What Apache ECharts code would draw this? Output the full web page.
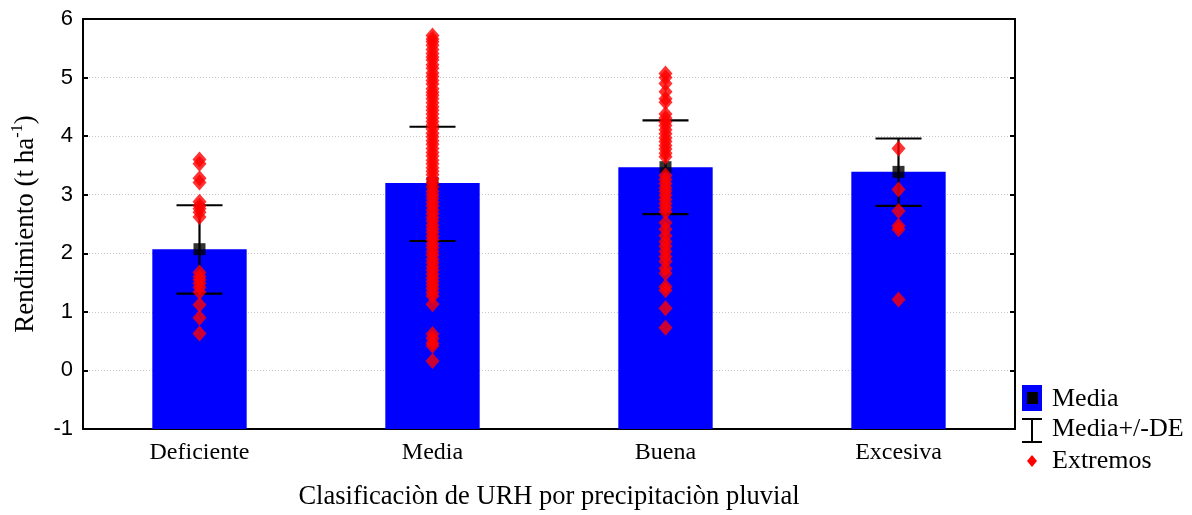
<!DOCTYPE html>
<html>
<head>
<meta charset="utf-8">
<script src="https://cdn.jsdelivr.net/npm/echarts@6/dist/echarts.min.js"></script>
<style>
html,body{margin:0;padding:0;background:#fff;}
#chart{width:1192px;height:515px;}
</style>
</head>
<body>
<div id="chart"></div>
<script>
var categories = ['Deficiente', 'Media', 'Buena', 'Excesiva'];
var means = [2.07, 3.20, 3.47, 3.39];
var sdLow = [1.31, 2.21, 2.67, 2.81];
var sdHigh = [2.82, 4.16, 4.27, 3.96];
var yTicks = [-1, 0, 1, 2, 3, 4, 5, 6];

var extremosDeficiente = [3.60, 3.53, 3.28, 3.21, 2.88, 2.81, 2.76, 2.70, 2.62, 1.67, 1.60, 1.55, 1.49, 1.42, 1.34, 1.12, 0.90, 0.63];
var extremosMedia = [5.72, 5.66, 5.61, 5.55, 5.48, 5.41, 5.35, 5.30, 5.22, 5.16, 5.08, 5.02, 4.95, 4.89, 4.81, 4.75, 4.70, 4.64, 4.57, 4.50, 4.44, 4.38, 4.31, 4.25, 4.19, 4.12, 4.05, 3.99, 3.92, 3.86, 3.79, 3.72, 3.66, 3.59, 3.53, 3.46, 3.40, 3.34, 3.27, 3.20, 3.13, 3.06, 3.00, 2.94, 2.87, 2.81, 2.74, 2.68, 2.61, 2.55, 2.48, 2.42, 2.36, 2.29, 2.23, 2.16, 2.10, 2.03, 1.97, 1.90, 1.84, 1.77, 1.71, 1.64, 1.58, 1.52, 1.46, 1.40, 1.33, 1.27, 1.13, 0.62, 0.55, 0.47, 0.42, 0.16];
var extremosBuena = [5.07, 5.00, 4.90, 4.76, 4.64, 4.58, 4.38, 4.31, 4.24, 4.18, 4.11, 4.04, 3.97, 3.91, 3.84, 3.78, 3.71, 3.65, 3.33, 3.26, 3.19, 3.12, 3.06, 2.99, 2.92, 2.85, 2.78, 2.71, 2.52, 2.41, 2.30, 2.20, 2.12, 2.03, 1.94, 1.86, 1.74, 1.66, 1.43, 1.37, 1.06, 0.73];
var extremosExcesiva = [3.79, 3.09, 2.72, 2.47, 2.41, 1.21];

var extremosAll = [extremosDeficiente, extremosMedia, extremosBuena, extremosExcesiva];
var scatterData = [];
extremosAll.forEach(function (arr, i) {
  arr.forEach(function (v) { scatterData.push([i, v]); });
});

var serif = '"Liberation Serif", "Times New Roman", serif';
var sans = '"Liberation Sans", Arial, sans-serif';
var axisLineStyle = {color: '#000', width: 2};

var chart = echarts.init(document.getElementById('chart'));

var option = {
  animation: false,
  backgroundColor: '#fff',
  grid: {left: 83, right: 177, top: 19, bottom: 86, show: false, containLabel: false, outerBoundsMode: 'none'},
  xAxis: [{
    type: 'category',
    data: categories,
    boundaryGap: true,
    position: 'bottom',
    axisLine: {show: true, onZero: false, lineStyle: axisLineStyle},
    axisTick: {show: false},
    axisLabel: {color: '#000', fontFamily: serif, fontSize: 24, margin: 12},
    name: 'Clasificaciòn de URH por precipitaciòn pluvial',
    nameLocation: 'middle',
    nameGap: 55,
    nameTextStyle: {color: '#000', fontFamily: serif, fontSize: 26.5}
  }, {
    type: 'category',
    data: categories,
    position: 'top',
    axisLine: {show: true, onZero: false, lineStyle: axisLineStyle},
    axisTick: {show: false},
    axisLabel: {show: false},
    splitLine: {show: false}
  }],
  yAxis: [{
    type: 'value',
    min: yTicks[0],
    max: yTicks[yTicks.length - 1],
    interval: 1,
    axisLine: {show: true, onZero: false, lineStyle: axisLineStyle},
    axisTick: {show: true, inside: true, length: 5, lineStyle: axisLineStyle},
    axisLabel: {color: '#000', fontFamily: sans, fontSize: 22, margin: 10},
    splitLine: {show: true, showMinLine: false, showMaxLine: false, lineStyle: {color: '#c8c8c8', type: [1, 2], width: 1}},
    name: '{a|Rendimiento (t ha}{s|-1}{a|)}',
    nameLocation: 'middle',
    nameRotate: 90,
    nameGap: 44,
    nameTextStyle: {
      rich: {
        a: {fontFamily: serif, fontSize: 27, color: '#000', lineHeight: 29, verticalAlign: 'bottom'},
        s: {fontFamily: serif, fontSize: 16, color: '#000', lineHeight: 29, verticalAlign: 'top'}
      }
    }
  }, {
    type: 'value',
    position: 'right',
    min: yTicks[0],
    max: yTicks[yTicks.length - 1],
    interval: 1,
    axisLine: {show: true, onZero: false, lineStyle: axisLineStyle},
    axisTick: {show: true, inside: true, length: 5, lineStyle: axisLineStyle},
    axisLabel: {show: false},
    splitLine: {show: false}
  }],
  series: [
    {
      name: 'Media',
      type: 'custom',
      z: 1,
      data: means.map(function (v, i) { return [i, v]; }),
      renderItem: function (params, api) {
        var i = api.value(0);
        var top = api.coord([i, api.value(1)]);
        var bottom = api.coord([i, yTicks[0]]);
        var w = api.size([1, 0])[0] * 0.405;
        return {
          type: 'rect',
          shape: {x: top[0] - w / 2, y: top[1], width: w, height: bottom[1] - top[1]},
          style: {fill: '#0000ff'}
        };
      }
    },
    {
      name: 'Media+/-DE',
      type: 'custom',
      z: 2,
      data: sdLow.map(function (v, i) { return [i, v, sdHigh[i]]; }),
      renderItem: function (params, api) {
        var i = api.value(0);
        var lo = api.coord([i, api.value(1)]);
        var hi = api.coord([i, api.value(2)]);
        var hw = 23;
        var st = {stroke: '#000', lineWidth: 2.2};
        return {
          type: 'group',
          children: [
            {type: 'line', shape: {x1: lo[0], y1: lo[1], x2: hi[0], y2: hi[1]}, style: st},
            {type: 'line', shape: {x1: lo[0] - hw, y1: lo[1], x2: lo[0] + hw, y2: lo[1]}, style: st},
            {type: 'line', shape: {x1: hi[0] - hw, y1: hi[1], x2: hi[0] + hw, y2: hi[1]}, style: st}
          ]
        };
      }
    },
    {
      name: 'MediaPunto',
      type: 'scatter',
      z: 3,
      symbol: 'rect',
      symbolSize: 12,
      itemStyle: {color: '#000'},
      data: means.map(function (v, i) { return [i, v]; })
    },
    {
      name: 'Extremos',
      type: 'scatter',
      z: 4,
      symbol: 'diamond',
      symbolSize: [14, 16],
      itemStyle: {color: '#ff0000'},
      data: scatterData
    }
  ],
  graphic: [
    {type: 'rect', left: 1022, top: 385, shape: {width: 20, height: 26}, style: {fill: '#0000ff'}},
    {type: 'rect', left: 1027, top: 392, shape: {width: 11, height: 12}, style: {fill: '#000'}},
    {type: 'text', left: 1052, top: 386, style: {text: 'Media', font: '26px ' + serif, fill: '#000'}},
    {type: 'line', shape: {x1: 1032, y1: 419, x2: 1032, y2: 442}, style: {stroke: '#000', lineWidth: 2}},
    {type: 'line', shape: {x1: 1022, y1: 419, x2: 1042, y2: 419}, style: {stroke: '#000', lineWidth: 2}},
    {type: 'line', shape: {x1: 1022, y1: 442, x2: 1042, y2: 442}, style: {stroke: '#000', lineWidth: 2}},
    {type: 'text', left: 1052, top: 416, style: {text: 'Media+/-DE', font: '26px ' + serif, fill: '#000'}},
    {type: 'polygon', shape: {points: [[1032, 455], [1037, 461], [1032, 467], [1027, 461]]}, style: {fill: '#ff0000'}},
    {type: 'text', left: 1052, top: 448, style: {text: 'Extremos', font: '26px ' + serif, fill: '#000'}}
  ]
};
chart.setOption(option);
</script>
</body>
</html>
